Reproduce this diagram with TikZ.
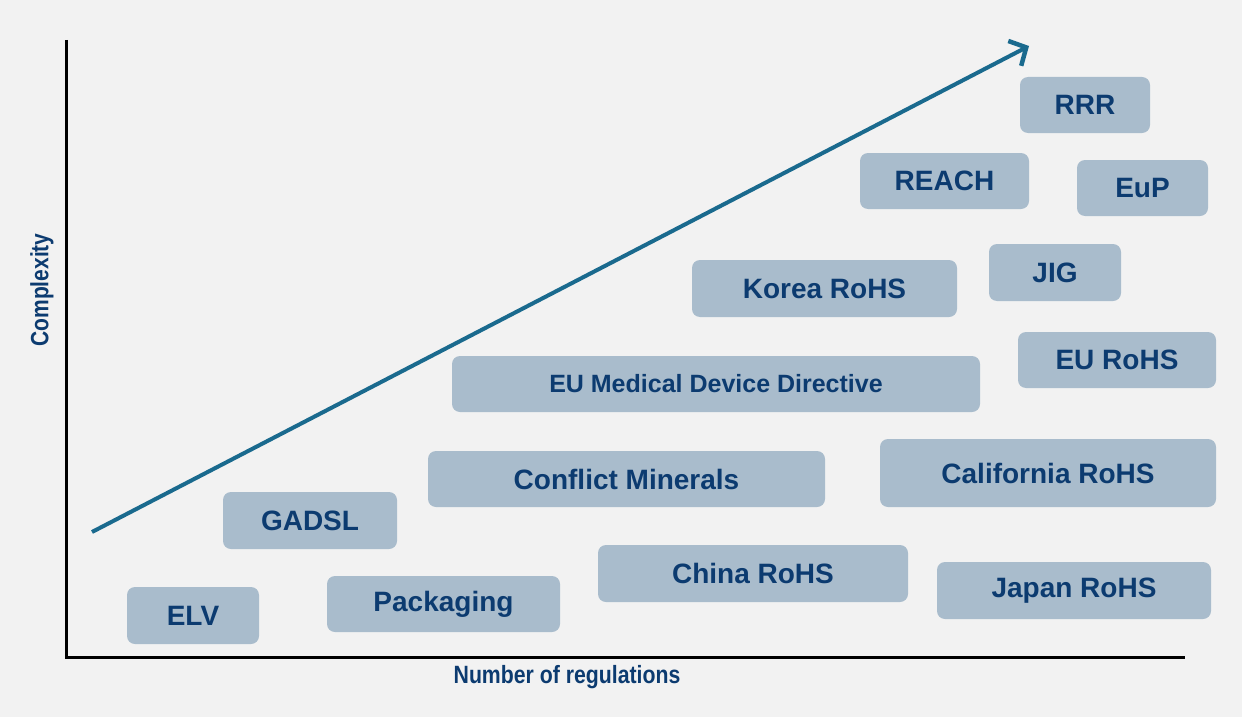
\documentclass[tikz,border=0pt]{standalone}
\usepackage{fontspec}
\setmainfont{Liberation Sans}
\usetikzlibrary{arrows.meta}
\definecolor{bgc}{HTML}{F2F2F2}
\definecolor{boxc}{HTML}{A9BCCC}
\definecolor{txtc}{HTML}{0C3B70}
\definecolor{arrc}{HTML}{1A6A8E}
\tikzset{
  regbox/.style={fill=boxc, rounded corners=8pt, inner sep=0pt, text=txtc,
    font=\fontsize{28}{32}\selectfont\bfseries},
  axislabel/.style={text=txtc, inner sep=0pt},
  axisline/.style={line width=3pt, black},
  trend/.style={line width=4pt, arrc, -{Straight Barb[length=13pt,width=28pt,line width=4.5pt]}}
}
\begin{document}
\begin{tikzpicture}[x=1pt,y=-1pt]
\fill[bgc] (0,0) rectangle (1242,717);
\useasboundingbox (0,0) rectangle (1242,717);
% axes
\coordinate (ytop) at (66,40);
\coordinate (orig) at (66,657);
\coordinate (xend) at (1185,657);
\draw[axisline] (ytop) -- (orig) -- (xend);
% trend arrow
\coordinate (astart) at (92,532);
\coordinate (aend) at (1029,46);
\draw[trend] (astart) -- (aend);
% boxes
\node[regbox, minimum width=130pt, minimum height=56pt] (rrr) at (1085,105) {RRR};
\node[regbox, minimum width=169pt, minimum height=56pt] (reach) at (944.5,181) {REACH};
\node[regbox, minimum width=131pt, minimum height=56pt] (eup) at (1142.5,188) {EuP};
\node[regbox, minimum width=132pt, minimum height=57pt] (jig) at (1055,272.5) {JIG};
\node[regbox, minimum width=265pt, minimum height=57pt] (korea) at (824.5,288.5) {Korea RoHS};
\node[regbox, minimum width=198pt, minimum height=56pt] (eurohs) at (1117,360) {EU RoHS};
\node[regbox, minimum width=528pt, minimum height=56pt, font=\fontsize{25}{28}\selectfont\bfseries] (medical) at (716,384) {EU Medical Device Directive};
\node[regbox, minimum width=336pt, minimum height=68pt] (california) at (1048,473) {California RoHS};
\node[regbox, minimum width=397pt, minimum height=56pt] (conflict) at (626.5,479) {Conflict Minerals};
\node[regbox, minimum width=174pt, minimum height=57pt] (gadsl) at (310,520.5) {GADSL};
\node[regbox, minimum width=310pt, minimum height=57pt] (china) at (753,573.5) {China RoHS};
\node[regbox, minimum width=274pt, minimum height=57pt] (japan) at (1074,590.5) {Japan RoHS};
\node[regbox, minimum width=233pt, minimum height=56pt] (packaging) at (443.5,604) {Packaging};
\node[regbox, minimum width=132pt, minimum height=57pt] (elv) at (193,615.5) {ELV};
% axis labels
\node[axislabel, rotate=90] (ylab) at (42,290) {\scalebox{0.84}[1]{\fontsize{25}{28}\selectfont\bfseries Complexity}};
\node[axislabel] (xlab) at (567,677) {\scalebox{0.85}[1]{\fontsize{25}{28}\selectfont\bfseries Number of regulations}};
\end{tikzpicture}
\end{document}
